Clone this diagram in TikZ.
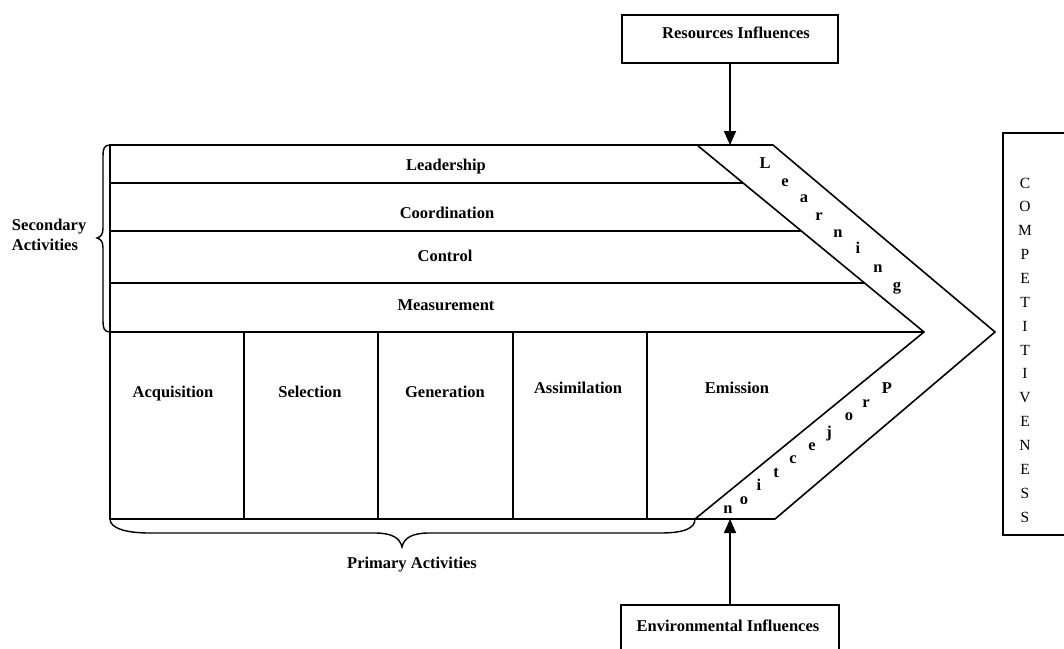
\documentclass[tikz,border=0pt]{standalone}
\usepackage{fontspec}
\setmainfont{Liberation Serif}
\usetikzlibrary{arrows.meta}
\begin{document}
\begin{tikzpicture}[x=1pt,y=-1pt,
  every node/.style={inner sep=0pt, outer sep=0pt},
  lbl/.style={font=\fontsize{16.5}{20}\selectfont\bfseries, text height=11pt, text depth=1pt},
  multi/.style={font=\fontsize{16.5}{20}\selectfont\bfseries, align=left},
  edge/.style={line width=1.6pt, line join=miter},
  bracestyle/.style={line width=1.4pt},
  arr/.style={line width=1.6pt, -{Triangle[width=12pt,length=14pt]}},
  box/.style={draw, line width=1.6pt, anchor=north west}]
\clip (0,0) rectangle (1064,648);
\fill[white] (0,0) rectangle (1064,648);

% chevron outline and the inner diagonal band
\draw[edge] (110,145) -- (773,145) -- (995,332) -- (775,519) -- (110,519) -- cycle;
\draw[edge] (697,145) -- (924,332) -- (695,519);

% secondary activity rows
\draw[edge] (110,183) -- (743,183);
\draw[edge] (110,231) -- (801,231);
\draw[edge] (110,283) -- (864,283);
\draw[edge] (110,332) -- (924,332);

% primary activity columns
\foreach \cx in {244,378,513,647}
  \draw[edge] (\cx,332) -- (\cx,519);

% row labels
\node[lbl] (lead)  at (446,165) {Leadership};
\node[lbl] (coord) at (447,213) {Coordination};
\node[lbl] (ctrl)  at (445,256) {Control};
\node[lbl] (meas)  at (446,305) {Measurement};

% column labels
\node[lbl] (acq) at (173,392) {Acquisition};
\node[lbl] (sel) at (310,392) {Selection};
\node[lbl] (gen) at (445,392) {Generation};
\node[lbl] (ass) at (578,388) {Assimilation};
\node[lbl] (emi) at (737,388) {Emission};

% letters along the upper band
\foreach \lx/\ly/\lc [count=\i] in {765/163/L,785/181/e,804/197/a,819/215/r,838/232/n,858/248/i,878/267/n,897/285/g}
  \node[lbl] (learn\i) at (\lx,\ly) {\lc};

% letters along the lower band
\foreach \lx/\ly/\lc [count=\i] in {887/388/P,866/402/r,849/415/o,829/432/j,812/445/e,793/458/c,776/472/t,759/485/i,744/499/o,728/508/n}
  \node[lbl] (proj\i) at (\lx,\ly) {\lc};

% braces
\draw[bracestyle] (110,145) .. controls (104,145) and (103,149) .. (103,156) -- (103,228)
  .. controls (103,234) and (101,237) .. (97,238) .. controls (101,239) and (103,242) .. (103,248)
  -- (103,321) .. controls (103,328) and (104,332) .. (110,332);
\node[multi, anchor=west] (sec) at (12,235) {Secondary\\Activities};

\draw[bracestyle] (110,519) .. controls (110,528) and (125,533) .. (150,533) -- (375,533)
  .. controls (392,533) and (400,538) .. (402,547) .. controls (404,538) and (412,533) .. (429,533)
  -- (660,533) .. controls (685,533) and (695,528) .. (695,519);
\node[lbl] (prim) at (412,563) {Primary Activities};

% influence boxes
\node[box, minimum width=216pt, minimum height=48pt] (res) at (622,15) {};
\node[lbl] (restxt) at (736,33) {Resources Influences};
\node[box, minimum width=218pt, minimum height=48pt] (env) at (621,605) {};
\node[lbl] (envtxt) at (728,626) {Environmental Influences};

\coordinate (lt) at (730,145);
\coordinate (lb) at (730,519);
\draw[arr] (res.south) -- (lt);
\draw[arr] (env.north) -- (lb);

% outcome box
\node[box, minimum width=80pt, minimum height=402pt] (comp) at (1003,133) {};
\node[font=\fontsize{15.5}{23.86}\selectfont, align=center] (comptxt) at (1025,350)
  {C\\O\\M\\P\\E\\T\\I\\T\\I\\V\\E\\N\\E\\S\\S};
\end{tikzpicture}
\end{document}
